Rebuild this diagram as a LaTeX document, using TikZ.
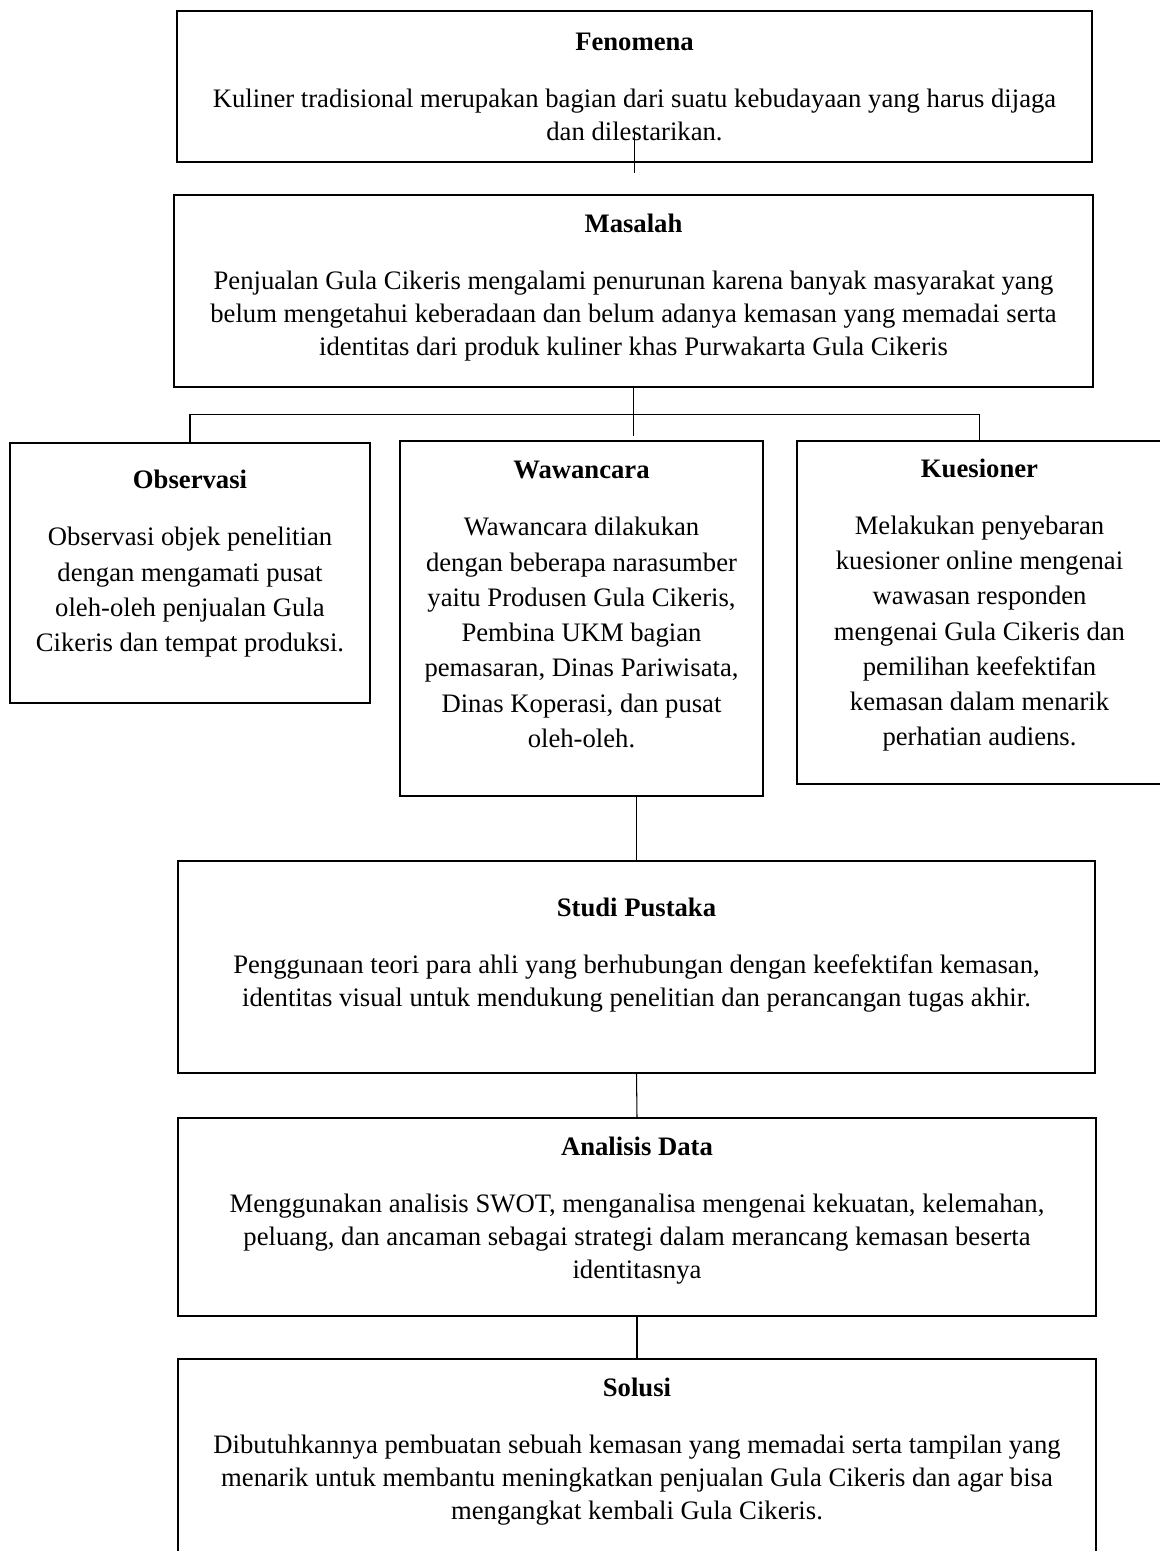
\documentclass[tikz,border=0pt]{standalone}
\usepackage{fontspec}
\setmainfont{Liberation Serif}
\usepackage{tikz}
\usetikzlibrary{positioning}
\newcommand{\boxpad}[1]{\rule[-#1]{0pt}{#1}}
\tikzset{
  framebox/.style={draw, line width=1.1pt, align=center, inner sep=0pt,
                   font=\fontsize{12.8}{15.84}\selectfont},
  widebox/.style={framebox},
  narrowbox/.style={framebox, font=\fontsize{12.8}{16.9}\selectfont},
  link/.style={line width=0.5pt}
}

\begin{document}
\begin{tikzpicture}[x=0.48pt, y=-0.48pt]
\useasboundingbox (0,0) rectangle (1159,1551);

% Top
\node[widebox, minimum width=439.2pt, minimum height=72.5pt] (fenomena) at (634.5,86.5)
  {\textbf{Fenomena}\\[11.5pt]
   Kuliner tradisional merupakan bagian dari suatu kebudayaan yang harus dijaga\\
   dan dilestarikan.};
\node[widebox, minimum width=441.1pt, minimum height=92.2pt] (masalah) at (633.5,291)
  {\textbf{Masalah}\\[11.5pt]
   Penjualan Gula Cikeris mengalami penurunan karena banyak masyarakat yang\\
   belum mengetahui keberadaan dan belum adanya kemasan yang memadai serta\\
   identitas dari produk kuliner khas Purwakarta Gula Cikeris\boxpad{6pt}};

% Data collection
\node[narrowbox, minimum width=172.8pt, minimum height=124.8pt] (observasi) at (190,573)
  {\textbf{Observasi}\\[10.5pt]
   Observasi objek penelitian\\
   dengan mengamati pusat\\
   oleh-oleh penjualan Gula\\
   Cikeris dan tempat produksi.\boxpad{11.6pt}};
\node[narrowbox, minimum width=174.2pt, minimum height=170.4pt] (wawancara) at (581.5,618.5)
  {\textbf{Wawancara}\\[10.5pt]
   Wawancara dilakukan\\
   dengan beberapa narasumber\\
   yaitu Produsen Gula Cikeris,\\
   Pembina UKM bagian\\
   pemasaran, Dinas Pariwisata,\\
   Dinas Koperasi, dan pusat\\
   oleh-oleh.\boxpad{13.6pt}};
\node[narrowbox, minimum width=175.2pt, minimum height=164.6pt] (kuesioner) at (979.5,612.5)
  {\textbf{Kuesioner}\\[10.5pt]
   Melakukan penyebaran\\
   kuesioner online mengenai\\
   wawasan responden\\
   mengenai Gula Cikeris dan\\
   pemilihan keefektifan\\
   kemasan dalam menarik\\
   perhatian audiens.\boxpad{9.8pt}};

% Bottom
\node[widebox, minimum width=440.2pt, minimum height=101.8pt] (studi) at (636.5,967)
  {\textbf{Studi Pustaka}\\[11.5pt]
   Penggunaan teori para ahli yang berhubungan dengan keefektifan kemasan,\\
   identitas visual untuk mendukung penelitian dan perancangan tugas akhir.\boxpad{14.6pt}};
\node[widebox, minimum width=440.6pt, minimum height=95pt] (analisis) at (637,1217)
  {\textbf{Analisis Data}\\[11.5pt]
   Menggunakan analisis SWOT, menganalisa mengenai kekuatan, kelemahan,\\
   peluang, dan ancaman sebagai strategi dalam merancang kemasan beserta\\
   identitasnya\boxpad{8.8pt}};
\node[widebox, minimum width=440.6pt, minimum height=96.5pt] (solusi) at (637,1459.5)
  {\textbf{Solusi}\\[11.5pt]
   Dibutuhkannya pembuatan sebuah kemasan yang memadai serta tampilan yang\\
   menarik untuk membantu meningkatkan penjualan Gula Cikeris dan agar bisa\\
   mengangkat kembali Gula Cikeris.\boxpad{10.6pt}};

% Lines
\coordinate (split) at ([yshift=-12.5pt]masalah.south);
\draw[link] ([yshift=15.4pt]fenomena.south) -- ([yshift=-4.8pt]fenomena.south);
\draw[link, shorten >=1.9pt] (masalah.south) -- (masalah.south |- wawancara.north);
\draw[link] (observasi.north) |- (split) -| (kuesioner.north);
\draw[link] (wawancara.south -| studi.north) -- (studi.north);
\draw[link] (studi.south) -- (analisis.north);
\draw[link] (analisis.south) -- (solusi.north);

\end{tikzpicture}
\end{document}
